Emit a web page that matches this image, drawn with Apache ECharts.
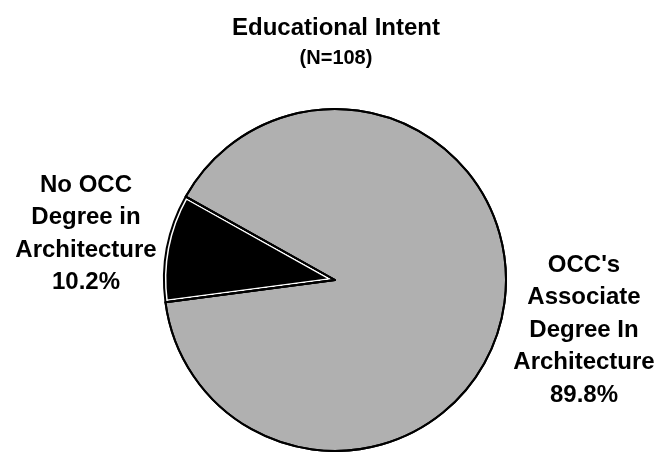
<!DOCTYPE html>
<html>
<head>
<meta charset="utf-8">
<script src="https://cdn.jsdelivr.net/npm/echarts@6/dist/echarts.min.js"></script>
<style>
  html, body { margin: 0; padding: 0; background: #fff; }
  #chart { width: 658px; height: 452px; }
</style>
</head>
<body>
<div id="chart"></div>
<script>
var categories = ["No OCC\nDegree in\nArchitecture", "OCC's\nAssociate\nDegree In\nArchitecture"];
var percents = [10.2, 89.8];
var sliceColors = ["#000000", "#b0b0b0"];

var font = "'Liberation Sans', Arial, sans-serif";
var chart = echarts.init(document.getElementById("chart"), null, { renderer: "canvas" });

var pieData = categories.map(function (name, i) {
    return {
        name: name,
        value: percents[i],
        itemStyle: {
            color: sliceColors[i],
            borderColor: i === 0 ? "#ffffff" : "#000000",
            borderWidth: i === 0 ? 5 : 2
        }
    };
});

// label anchors (left / right of the pie)
var labelSpots = [
    { x: 86, y: 234 },
    { x: 584, y: 330 }
];

var option = {
    animation: false,
    title: {
        text: "Educational Intent",
        subtext: "(N=108)",
        left: 331,
        textAlign: "center",
        top: 11,
        itemGap: 8,
        textStyle: { fontFamily: font, fontWeight: "bold", fontSize: 24, color: "#000" },
        subtextStyle: { fontFamily: font, fontWeight: "bold", fontSize: 20, color: "#000" }
    },
    series: [
        {
            type: "pie",
            center: [335, 280],
            radius: 171,
            startAngle: 187.5,
            clockwise: true,
            data: pieData,
            label: {
                show: true,
                position: "outside",
                formatter: function (p) { return p.name + "\n" + p.value.toFixed(1) + "%"; },
                fontFamily: font,
                fontWeight: "bold",
                fontSize: 24,
                lineHeight: 32.5,
                color: "#000",
                align: "center",
                overflow: "none",
                width: 200
            },
            labelLine: { show: false },
            labelLayout: function (params) {
                var s = labelSpots[params.dataIndex];
                return { x: s.x, y: s.y, align: "center", verticalAlign: "middle" };
            }
        },
        {
            type: "pie",
            center: [335, 280],
            radius: 171,
            startAngle: 187.5,
            clockwise: true,
            silent: true,
            data: percents.map(function (v, i) { return { name: categories[i], value: v }; }),
            itemStyle: { color: "rgba(0,0,0,0)", borderColor: "#000", borderWidth: 2 },
            label: { show: false },
            labelLine: { show: false }
        }
    ]
};

chart.setOption(option);
</script>
</body>
</html>
